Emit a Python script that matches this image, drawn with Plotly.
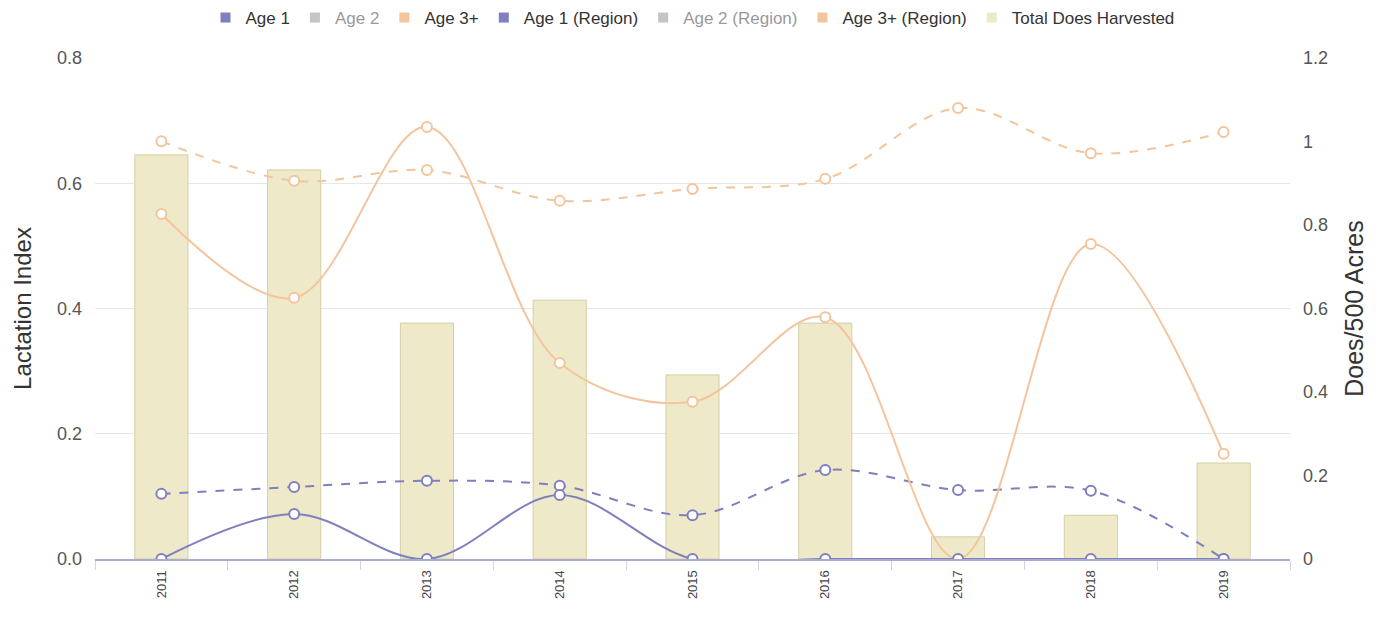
import plotly.graph_objects as go

years = ["2011", "2012", "2013", "2014", "2015", "2016", "2017", "2018", "2019"]
age1 = [0.0, 0.072, 0.0, 0.102, 0.0, 0.0, 0.0, 0.0, 0.0]
age3 = [0.551, 0.417, 0.690, 0.313, 0.251, 0.386, 0.0, 0.503, 0.168]
age1_region = [0.104, 0.115, 0.125, 0.117, 0.070, 0.142, 0.110, 0.109, 0.0]
age3_region = [0.667, 0.604, 0.621, 0.572, 0.591, 0.607, 0.720, 0.648, 0.682]
does_harvested = [0.968, 0.932, 0.565, 0.620, 0.441, 0.565, 0.053, 0.105, 0.230]

PURPLE = "#7f7fc0"
ORANGE = "#f4c49c"
GREY = "#8c8c8c"
BAR_FILL = "#eee9c8"
BAR_LINE = "#d4cfa6"
FONT = "Arial, Liberation Sans, sans-serif"

fig = go.Figure()

# bars on the primary axis (shown on the right) so lines draw above them
fig.add_trace(go.Bar(
    x=years, y=does_harvested, yaxis="y", width=0.4,
    marker=dict(color=BAR_FILL, line=dict(color=BAR_LINE, width=1)),
    showlegend=False, name="Total Does Harvested"))

def line(y, color, dash, name):
    fig.add_trace(go.Scatter(
        x=years, y=y, yaxis="y2", mode="lines+markers", name=name, showlegend=False,
        line=dict(color=color, width=2, dash=dash, shape="spline", smoothing=1.0),
        marker=dict(symbol="circle", size=10, color="white",
                    line=dict(color=color, width=2))))

line(age3_region, ORANGE, "dash", "Age 3+ (Region)")
line(age1_region, PURPLE, "dash", "Age 1 (Region)")
line(age3, ORANGE, "solid", "Age 3+")
line(age1, PURPLE, "solid", "Age 1")

# legend swatches
legend_items = [
    ("Age 1", PURPLE, True),
    ("Age 2", GREY, "legendonly"),
    ("Age 3+", ORANGE, True),
    ("Age 1 (Region)", PURPLE, True),
    ("Age 2 (Region)", GREY, "legendonly"),
    ("Age 3+ (Region)", ORANGE, True),
    ("Total Does Harvested", BAR_FILL, True),
]
for name, color, vis in legend_items:
    fig.add_trace(go.Scatter(
        x=[None], y=[None], yaxis="y2", mode="markers", name=name, visible=vis,
        marker=dict(symbol="square", size=10, color=color)))

fig.update_layout(
    width=1388, height=623,
    margin=dict(l=95, r=98, t=58, b=64),
    plot_bgcolor="white", paper_bgcolor="white",
    font=dict(family=FONT, size=14, color="#333333"),
    legend=dict(orientation="h", x=0.5, xanchor="center", y=1.0, yanchor="top",
                yref="container", itemwidth=30, font=dict(size=17, color="#333333"),
                tracegroupgap=0, itemclick=False, itemdoubleclick=False,
                bgcolor="rgba(0,0,0,0)"),
    xaxis=dict(
        type="category", tickangle=-90, tickson="boundaries",
        ticks="outside", ticklen=9, tickcolor="#ccd6eb",
        showline=True, linecolor="#a9acd0", linewidth=2,
        showgrid=False, tickfont=dict(size=13, color="#444444"),
        ticklabelstandoff=4, range=[-0.5, 8.5]),
    yaxis=dict(
        title=dict(text="Does/500 Acres", font=dict(size=25, color="#333333"), standoff=18),
        side="right", range=[0, 1.2], automargin=False,
        tickvals=[0, 0.2, 0.4, 0.6, 0.8, 1.0, 1.2],
        ticktext=["0", "0.2", "0.4", "0.6", "0.8", "1", "1.2"],
        showgrid=False, zeroline=False,
        tickfont=dict(size=18, color="#555555"), ticklabelstandoff=12),
    yaxis2=dict(
        title=dict(text="Lactation Index", font=dict(size=24, color="#333333"), standoff=18),
        overlaying="y", side="left", range=[0, 0.8], automargin=False,
        tickvals=[0, 0.2, 0.4, 0.6, 0.8],
        ticktext=["0.0", "0.2", "0.4", "0.6", "0.8"],
        showgrid=True, gridcolor="#e6e6e6", zeroline=False,
        tickfont=dict(size=18, color="#555555"), ticklabelstandoff=12),
)

fig.write_html("out.html", config={"displayModeBar": False},
               post_script="document.body.style.margin='0';")
